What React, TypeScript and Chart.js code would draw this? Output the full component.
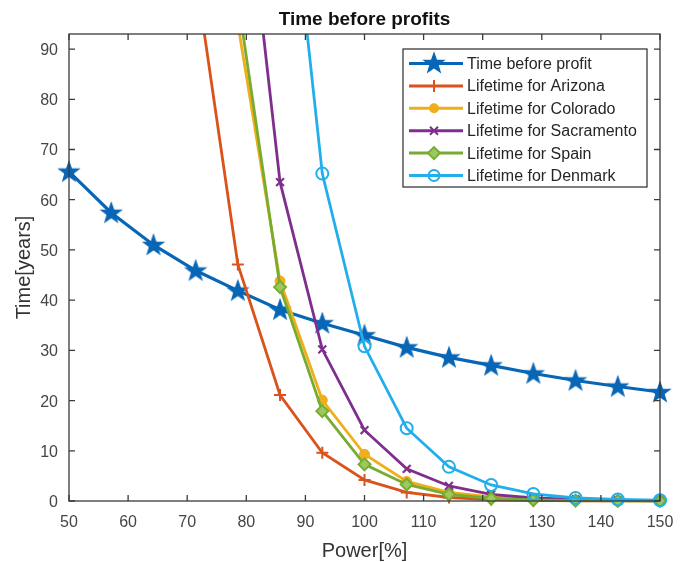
import React, { useEffect, useRef } from 'react';
import { Chart, registerables } from 'chart.js';

Chart.register(...registerables);

const powerPct = [50, 57.14, 64.29, 71.43, 78.57, 85.71, 92.86, 100, 107.14, 114.29, 121.43, 128.57, 135.71, 142.86, 150];
const timeBeforeProfit = [65.6, 57.4, 51.0, 45.9, 41.9, 38.1, 35.4, 33.0, 30.6, 28.6, 27.0, 25.4, 24.0, 22.8, 21.7];
const lifetimeArizona = [null, null, null, 105, 47.1, 21.1, 9.6, 4.2, 1.7, 0.7, 0.3, 0.12, 0.05, 0.02, 0.01];
const lifetimeColorado = [null, null, null, null, 95, 43.8, 20.1, 9.3, 3.9, 1.7, 0.8, 0.35, 0.15, 0.07, 0.03];
const lifetimeSacramento = [null, null, null, null, 138, 63.5, 30.2, 14.1, 6.4, 3.0, 1.3, 0.6, 0.3, 0.12, 0.05];
const lifetimeSpain = [null, null, null, null, 100, 42.6, 17.9, 7.3, 3.3, 1.3, 0.5, 0.2, 0.08, 0.03, 0.01];
const lifetimeDenmark = [null, null, null, null, null, 143, 65.2, 30.8, 14.5, 6.8, 3.2, 1.4, 0.6, 0.3, 0.15];

const seriesNames = [
  'Time before profit',
  'Lifetime for Arizona',
  'Lifetime for Colorado',
  'Lifetime for Sacramento',
  'Lifetime for Spain',
  'Lifetime for Denmark',
];
const xTickValues = [50, 60, 70, 80, 90, 100, 110, 120, 130, 140, 150];
const yTickValues = [0, 10, 20, 30, 40, 50, 60, 70, 80, 90];

const titleText = 'Time before profits';
const xTitle = 'Power[%]';
const yTitle = 'Time[years]';

const COLORS = ['#0866B6', '#D9531A', '#F0AE1C', '#7E2F8E', '#77AC30', '#22AEEA'];
const MARKERS = ['star', 'plus', 'dot', 'x', 'diamond', 'ring'];

const FONT = '"Liberation Sans", Arial, Helvetica, sans-serif';

function makeStar(color: string): HTMLCanvasElement {
  const c = document.createElement('canvas');
  c.width = 26;
  c.height = 26;
  const g = c.getContext('2d')!;
  const cx = 13, cy = 13.5, R = 10.5, r = 4.2;
  g.beginPath();
  for (let i = 0; i < 10; i++) {
    const ang = -Math.PI / 2 + (i * Math.PI) / 5;
    const rad = i % 2 === 0 ? R : r;
    const px = cx + rad * Math.cos(ang);
    const py = cy + rad * Math.sin(ang);
    if (i === 0) g.moveTo(px, py);
    else g.lineTo(px, py);
  }
  g.closePath();
  g.fillStyle = color;
  g.fill();
  g.lineWidth = 1.2;
  g.strokeStyle = color;
  g.lineJoin = 'miter';
  g.stroke();
  return c;
}

function drawLegendMarker(ctx: CanvasRenderingContext2D, kind: string, x: number, y: number, color: string, star: HTMLCanvasElement) {
  ctx.save();
  ctx.strokeStyle = color;
  ctx.fillStyle = color;
  ctx.lineWidth = 2;
  if (kind === 'star') {
    ctx.drawImage(star, x - 13, y - 13.5);
  } else if (kind === 'plus') {
    ctx.beginPath();
    ctx.moveTo(x - 6, y); ctx.lineTo(x + 6, y);
    ctx.moveTo(x, y - 6); ctx.lineTo(x, y + 6);
    ctx.stroke();
  } else if (kind === 'dot') {
    ctx.beginPath(); ctx.arc(x, y, 5, 0, Math.PI * 2); ctx.fill();
  } else if (kind === 'x') {
    ctx.beginPath();
    ctx.moveTo(x - 4, y - 4); ctx.lineTo(x + 4, y + 4);
    ctx.moveTo(x - 4, y + 4); ctx.lineTo(x + 4, y - 4);
    ctx.stroke();
  } else if (kind === 'diamond') {
    ctx.beginPath();
    ctx.moveTo(x, y - 6); ctx.lineTo(x + 6, y); ctx.lineTo(x, y + 6); ctx.lineTo(x - 6, y); ctx.closePath();
    ctx.fillStyle = '#9CC85E';
    ctx.fill(); ctx.stroke();
  } else if (kind === 'ring') {
    ctx.beginPath(); ctx.arc(x, y, 5.5, 0, Math.PI * 2); ctx.stroke();
  }
  ctx.restore();
}

export default function App() {
  const ref = useRef<HTMLCanvasElement | null>(null);

  useEffect(() => {
    if (!ref.current) return;
    const star = makeStar(COLORS[0]);
    const seriesData = [timeBeforeProfit, lifetimeArizona, lifetimeColorado, lifetimeSacramento, lifetimeSpain, lifetimeDenmark];

    const pointCfg = (i: number) => {
      const c = COLORS[i];
      switch (MARKERS[i]) {
        case 'star': return { pointStyle: star, pointRadius: 10, pointBorderWidth: 0, pointBackgroundColor: c, pointBorderColor: c };
        case 'plus': return { pointStyle: 'cross', pointRadius: 6, pointBorderWidth: 2, pointBackgroundColor: c, pointBorderColor: c };
        case 'dot': return { pointStyle: 'circle', pointRadius: 5, pointBorderWidth: 1, pointBackgroundColor: c, pointBorderColor: c };
        case 'x': return { pointStyle: 'crossRot', pointRadius: 5.5, pointBorderWidth: 2.2, pointBackgroundColor: c, pointBorderColor: c };
        case 'diamond': return { pointStyle: 'rectRot', pointRadius: 6, pointBorderWidth: 2, pointBackgroundColor: '#9CC85E', pointBorderColor: c };
        default: return { pointStyle: 'circle', pointRadius: 6, pointBorderWidth: 2, pointBackgroundColor: 'rgba(255,255,255,0)', pointBorderColor: c };
      }
    };

    const datasets = seriesData.map((arr, i) => ({
      label: seriesNames[i],
      data: powerPct.map((x, j) => ({ x, y: arr[j] })),
      borderColor: COLORS[i],
      backgroundColor: COLORS[i],
      borderWidth: i === 0 ? 3.2 : 2.8,
      tension: 0,
      fill: false,
      spanGaps: false,
      order: 10 - i,
      clip: { left: 14, right: 14, top: 0, bottom: 14 },
      ...pointCfg(i),
    }));

    const decor = {
      id: 'matlabDecor',
      afterDraw(chart: any) {
        const { ctx, chartArea } = chart;
        const { left, top, right, bottom } = chartArea;
        const xs = chart.scales.x;
        const ys = chart.scales.y;
        ctx.save();
        // frame
        ctx.strokeStyle = '#3a3a3a';
        ctx.lineWidth = 1.3;
        ctx.strokeRect(left, top, right - left, bottom - top);
        // ticks
        ctx.beginPath();
        xTickValues.forEach((v) => {
          const px = xs.getPixelForValue(v);
          ctx.moveTo(px, bottom); ctx.lineTo(px, bottom - 6);
          ctx.moveTo(px, top); ctx.lineTo(px, top + 6);
        });
        yTickValues.forEach((v) => {
          const py = ys.getPixelForValue(v);
          ctx.moveTo(left, py); ctx.lineTo(left + 6, py);
          ctx.moveTo(right, py); ctx.lineTo(right - 6, py);
        });
        ctx.stroke();
        // tick labels
        ctx.fillStyle = '#454545';
        ctx.font = `16px ${FONT}`;
        ctx.textBaseline = 'alphabetic';
        ctx.textAlign = 'center';
        xTickValues.forEach((v) => {
          ctx.fillText(String(v), xs.getPixelForValue(v), bottom + 26);
        });
        ctx.textAlign = 'right';
        yTickValues.forEach((v) => {
          ctx.fillText(String(v), left - 11, ys.getPixelForValue(v) + 6);
        });
        // axis titles
        ctx.fillStyle = '#333333';
        ctx.font = `20px ${FONT}`;
        ctx.textAlign = 'center';
        ctx.fillText(xTitle, (left + right) / 2, bottom + 56);
        ctx.save();
        ctx.translate(30, (top + bottom) / 2);
        ctx.rotate(-Math.PI / 2);
        ctx.fillText(yTitle, 0, 0);
        ctx.restore();
        // title
        ctx.fillStyle = '#111111';
        ctx.font = `bold 19px ${FONT}`;
        ctx.fillText(titleText, (left + right) / 2, 25);
        // legend
        const lx = 403, ly = 49, lw = 244, lh = 138;
        ctx.fillStyle = '#ffffff';
        ctx.fillRect(lx, ly, lw, lh);
        ctx.strokeStyle = '#2a2a2a';
        ctx.lineWidth = 1.2;
        ctx.strokeRect(lx, ly, lw, lh);
        ctx.font = `16px ${FONT}`;
        ctx.textAlign = 'left';
        ctx.textBaseline = 'middle';
        seriesNames.forEach((name, i) => {
          const ry = 63.5 + i * 22.4;
          ctx.strokeStyle = COLORS[i];
          ctx.lineWidth = 3;
          ctx.beginPath();
          ctx.moveTo(409, ry); ctx.lineTo(463, ry);
          ctx.stroke();
          drawLegendMarker(ctx, MARKERS[i], 434, ry, COLORS[i], star);
          ctx.fillStyle = '#262626';
          ctx.fillText(name, 467, ry + 1);
        });
        ctx.restore();
      },
    };

    const chart = new Chart(ref.current, {
      type: 'line',
      data: { datasets: datasets as any },
      options: {
        animation: false,
        responsive: false,
        events: [],
        layout: { padding: { left: 69, top: 34, right: 34, bottom: 61 } },
        plugins: { legend: { display: false }, title: { display: false }, tooltip: { enabled: false } },
        scales: {
          x: { type: 'linear', min: 50, max: 150, display: false },
          y: { type: 'linear', min: 0, max: 93, display: false },
        },
      },
      plugins: [decor],
    });
    return () => chart.destroy();
  }, []);

  return (
    <div style={{ position: 'fixed', left: 0, top: 0, width: 694, height: 562, background: '#ffffff' }}>
      <canvas ref={ref} width={694} height={562} style={{ width: 694, height: 562, display: 'block' }} />
    </div>
  );
}
